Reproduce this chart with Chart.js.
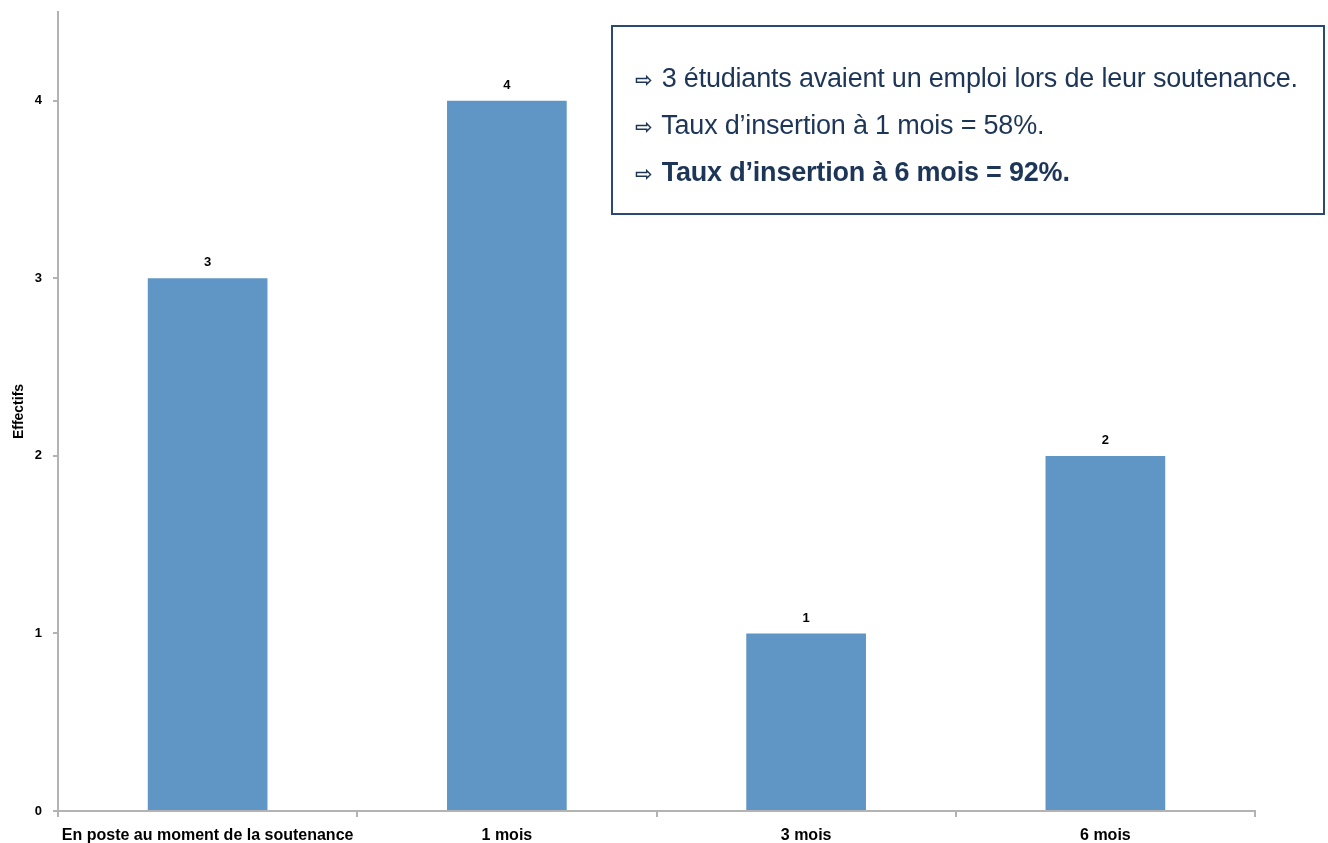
<!DOCTYPE html>
<html>
<head>
<meta charset="utf-8">
<script src="https://cdn.jsdelivr.net/npm/chart.js@4.4.0/dist/chart.umd.min.js"></script>
<style>
  html, body { margin: 0; padding: 0; background: #fff; }
  #wrap { position: relative; width: 1328px; height: 843px; }
  #note {
    position: absolute; left: 611px; top: 25px; width: 714px; height: 190px;
    border: 2px solid #2a4a72; box-sizing: border-box;
    font-family: "Liberation Sans", Arial, sans-serif; font-size: 27px; color: #1d3557;
    padding-top: 36px; padding-left: 22px; letter-spacing: -0.2px;
  }
  #note div { height: 47px; line-height: 30px; white-space: nowrap; }
  #note .arrow { font-family: "DejaVu Sans", sans-serif; font-size: 21px; font-weight: bold; margin-right: 2px; }
  #note .strong { font-weight: bold; }
</style>
</head>
<body>
<div id="wrap">
  <canvas id="barChart" width="1328" height="843"></canvas>
  <div id="note">
    <div><span class="arrow">⇨</span> 3 étudiants avaient un emploi lors de leur soutenance.</div>
    <div><span class="arrow">⇨</span> Taux d’insertion à 1 mois = 58%.</div>
    <div class="strong"><span class="arrow">⇨</span> Taux d’insertion à 6 mois = 92%.</div>
  </div>
</div>
<script>
const categories = ['En poste au moment de la soutenance', '1 mois', '3 mois', '6 mois'];
const effectifs = [3, 4, 1, 2];
const yMax = 4.5;

const labelFont = '"Liberation Sans Narrow", "Liberation Sans", Arial, sans-serif';

// values written above the bars
const valueLabels = {
  id: 'valueLabels',
  afterDatasetsDraw(chart) {
    const ctx = chart.ctx;
    const meta = chart.getDatasetMeta(0);
    ctx.save();
    ctx.font = 'bold 13px ' + labelFont;
    ctx.fillStyle = '#000';
    ctx.textAlign = 'center';
    ctx.textBaseline = 'bottom';
    meta.data.forEach(function (bar, i) {
      ctx.fillText(effectifs[i], bar.x, bar.y - 9);
    });
    ctx.restore();
  }
};

const ctx = document.getElementById('barChart').getContext('2d');
new Chart(ctx, {
  type: 'bar',
  data: {
    labels: categories,
    datasets: [{
      data: effectifs,
      backgroundColor: '#5f96c5',
      barPercentage: 0.4,
      categoryPercentage: 1.0
    }]
  },
  options: {
    responsive: false,
    animation: false,
    layout: { padding: { top: 12, right: 73, left: 0, bottom: 0 } },
    plugins: { legend: { display: false }, tooltip: { enabled: false } },
    scales: {
      x: {
        afterFit: function (scale) { scale.height = 32; },
        grid: {
          offset: true,
          drawOnChartArea: false,
          drawTicks: true,
          tickLength: 6,
          color: '#b3b3b3',
          lineWidth: 2
        },
        border: { color: '#b3b3b3', width: 2 },
        ticks: {
          color: '#000',
          padding: 9,
          maxRotation: 0,
          font: { family: labelFont, size: 16, weight: 'bold' }
        }
      },
      y: {
        min: 0,
        max: yMax,
        afterFit: function (scale) {
          scale.width = 58;
          scale.paddingTop = 0;
          scale.paddingBottom = 0;
        },
        afterBuildTicks: function (scale) {
          scale.ticks = scale.ticks.filter(function (t) { return Number.isInteger(t.value); });
        },
        grid: {
          drawOnChartArea: false,
          drawTicks: true,
          tickLength: 5,
          color: '#b3b3b3',
          lineWidth: 2
        },
        border: { color: '#b3b3b3', width: 2 },
        ticks: {
          stepSize: 1,
          color: '#000',
          padding: 11,
          font: { family: labelFont, size: 13, weight: 'bold' }
        },
        title: {
          display: true,
          text: 'Effectifs',
          color: '#000',
          padding: { top: 11, bottom: 0 },
          font: { family: labelFont, size: 14, weight: 'bold' }
        }
      }
    }
  },
  plugins: [valueLabels]
});
</script>
</body>
</html>
